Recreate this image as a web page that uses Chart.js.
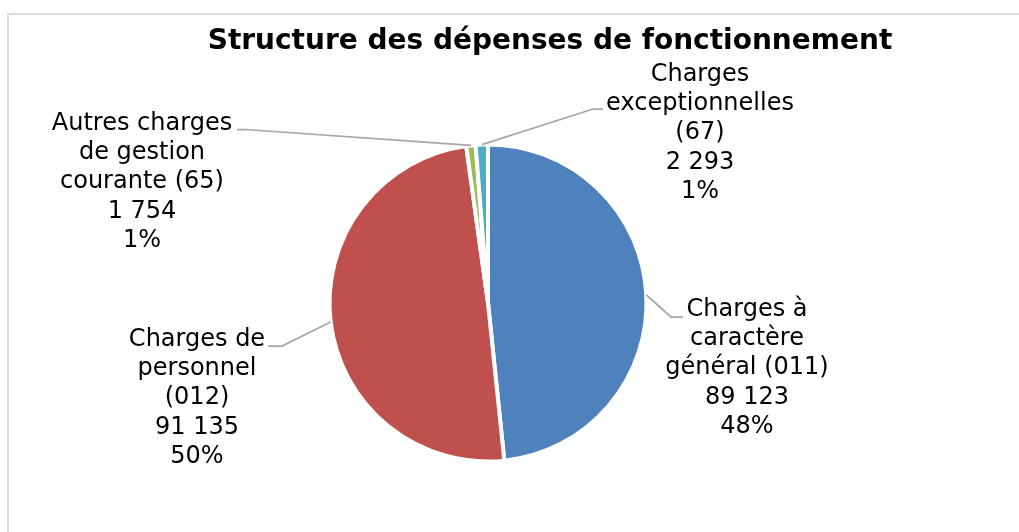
<!DOCTYPE html>
<html lang="fr">
<head>
  <meta charset="UTF-8">
  <title>Structure des dépenses de fonctionnement</title>
  <script src="https://cdn.jsdelivr.net/npm/chart.js"></script>
  <style>
    html, body {
      margin: 0;
      padding: 0;
      background: #fff;
      overflow: hidden;
    }
    #frame {
      position: absolute;
      left: 7px;
      top: 13px;
      width: 1100px;
      height: 600px;
      border-left: 2px solid #dcdcdc;
      border-top: 2px solid #dcdcdc;
    }
    #pie {
      position: absolute;
      left: 0;
      top: 0;
    }
  </style>
</head>
<body>
  <div id="frame"></div>
  <canvas id="pie" width="1019" height="532"></canvas>
  <script>
    // données
    const categories = [
      'Charges à caractère général (011)',
      'Charges de personnel (012)',
      'Autres charges de gestion courante (65)',
      'Charges exceptionnelles (67)'
    ];
    const values = [89123, 91135, 1754, 2293];
    const percentLabels = ['48%', '50%', '1%', '1%'];
    // libellés coupés comme dans l'original
    const nameLines = [
      ['Charges à', 'caractère', 'général (011)'],
      ['Charges de', 'personnel', '(012)'],
      ['Autres charges', 'de gestion', 'courante (65)'],
      ['Charges', 'exceptionnelles', '(67)']
    ];
    const colors = ['#4f81bd', '#c0504d', '#9bbb59', '#4bacc6'];

    // placement des étiquettes (x centre, y ligne de base 1re ligne) et lignes de rappel
    const labelLayout = [
      { x: 747, y: 316, elbow: [671, 317], end: [683, 317] },
      { x: 197, y: 346, elbow: [282, 346], end: [268, 346] },
      { x: 142, y: 130, elbow: [245, 129.5], end: [237, 129.5] },
      { x: 700, y: 81, elbow: [593, 109], end: [603, 109] }
    ];
    const lineHeight = 29.2;

    function fmt(v) {
      return String(v).replace(/\B(?=(\d{3})+(?!\d))/g, ' ');
    }

    const labelPlugin = {
      id: 'pieLabels',
      afterDatasetsDraw(chart) {
        const ctx = chart.ctx;
        const meta = chart.getDatasetMeta(0);
        ctx.save();
        meta.data.forEach((arc, i) => {
          const p = arc.getProps(['x', 'y', 'startAngle', 'endAngle', 'outerRadius'], true);
          const mid = (p.startAngle + p.endAngle) / 2;
          const sx = p.x + Math.cos(mid) * p.outerRadius;
          const sy = p.y + Math.sin(mid) * p.outerRadius;
          const lay = labelLayout[i];

          ctx.strokeStyle = '#a6a6a6';
          ctx.lineWidth = 1.75;
          ctx.beginPath();
          ctx.moveTo(sx, sy);
          ctx.lineTo(lay.elbow[0], lay.elbow[1]);
          ctx.lineTo(lay.end[0], lay.end[1]);
          ctx.stroke();

          const lines = nameLines[i].concat([fmt(values[i]), percentLabels[i]]);
          ctx.fillStyle = '#000';
          ctx.font = '24px "DejaVu Sans", Verdana, sans-serif';
          ctx.textAlign = 'center';
          ctx.textBaseline = 'alphabetic';
          lines.forEach((t, k) => ctx.fillText(t, lay.x, lay.y + k * lineHeight));
        });

        ctx.font = 'bold 28px "DejaVu Sans", Verdana, sans-serif';
        ctx.fillStyle = '#000';
        ctx.textAlign = 'center';
        ctx.fillText('Structure des dépenses de fonctionnement', 550, 49);
        ctx.restore();
      }
    };

    new Chart(document.getElementById('pie'), {
      type: 'pie',
      data: {
        labels: categories,
        datasets: [{
          data: values,
          backgroundColor: colors,
          borderColor: '#ffffff',
          borderWidth: 4,
          radius: 158.5
        }]
      },
      options: {
        responsive: false,
        devicePixelRatio: 1,
        animation: false,
        layout: {
          padding: { left: 288, right: 331, top: 103, bottom: 29 }
        },
        plugins: {
          legend: { display: false },
          tooltip: { enabled: false },
          title: { display: false }
        }
      },
      plugins: [labelPlugin]
    });
  </script>
</body>
</html>
